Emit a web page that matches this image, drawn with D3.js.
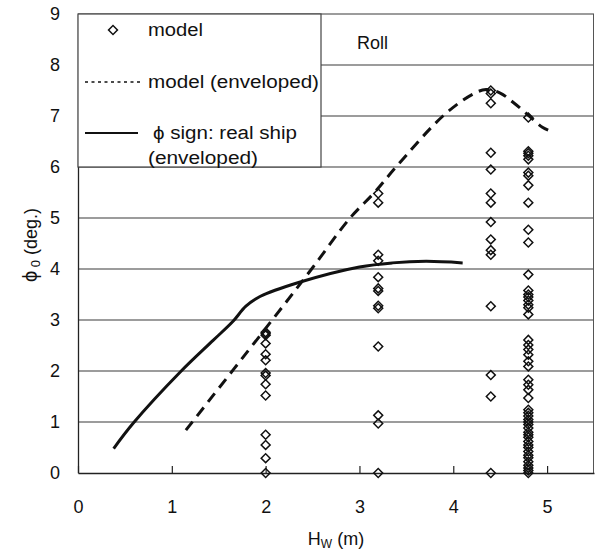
<!DOCTYPE html>
<html>
<head>
<meta charset="utf-8">
<script src="https://cdn.jsdelivr.net/npm/d3@7"></script>
<style>
  html, body { margin: 0; padding: 0; background: #fff; }
  svg { display: block; font-family: "Liberation Sans", Arial, sans-serif; }
</style>
</head>
<body>
<svg id="chart" width="595" height="553"></svg>
<script>
// Wave height columns of the model tests (m)
const hwColumns = [2.0, 3.2, 4.4, 4.8];

// Measured roll amplitude phi0 (deg.) at each wave height
const phiAtHw20 = [2.76, 2.73, 2.70, 2.54, 2.33, 2.21, 1.96, 1.91, 1.74, 1.52, 0.75, 0.55, 0.29, 0.0];
const phiAtHw32 = [5.48, 5.30, 4.28, 4.16, 3.84, 3.62, 3.57, 3.28, 3.23, 2.48, 1.13, 0.97, 0.0];
const phiAtHw44 = [7.50, 7.44, 7.25, 6.28, 5.95, 5.48, 5.30, 4.92, 4.58, 4.37, 4.28, 3.27, 1.92, 1.50, 0.0];
const phiAtHw48 = [6.97, 6.31, 6.27, 6.22, 6.15, 5.89, 5.83, 5.64, 5.30, 4.77, 4.52, 3.89,
                   3.58, 3.50, 3.45, 3.38, 3.30, 3.24, 3.11, 2.61, 2.51, 2.42, 2.32, 2.19, 2.09,
                   1.83, 1.73, 1.63, 1.47, 1.24, 1.18, 1.12, 1.05, 1.00, 0.95, 0.88, 0.80,
                   0.75, 0.70, 0.62, 0.55, 0.50, 0.42, 0.35, 0.30, 0.22, 0.15, 0.10, 0.05, 0.0];

// Envelope of the model results
const envModelHw  = [1.15, 2.07, 2.49, 2.90, 3.16, 3.39, 3.89, 4.20, 4.35, 4.50, 4.65, 4.81, 4.95, 5.07];
const envModelPhi = [0.84, 3.00, 4.00, 5.00, 5.50, 6.00, 7.00, 7.42, 7.52, 7.45, 7.25, 7.00, 6.78, 6.68];

// Envelope of the real ship phi sign
const shipHw  = [0.38, 0.59, 1.09, 1.44, 1.65, 1.79, 1.94, 2.36, 3.00, 3.35, 3.71, 4.10];
const shipPhi = [0.48, 0.98, 1.98, 2.60, 2.97, 3.27, 3.46, 3.74, 4.04, 4.12, 4.15, 4.12];

const xTickValues = [0, 1, 2, 3, 4, 5];
const yTickValues = [0, 1, 2, 3, 4, 5, 6, 7, 8, 9];

const legendLabels = ["model", "model (enveloped)", "\u03d5 sign: real ship", "(enveloped)"];
const panelTitle = "Roll";

// ---- layout ----
const plot = { left: 78, right: 594, top: 14, bottom: 473 };
const svg = d3.select("#chart");

const x = d3.scaleLinear().domain([0, 5.5]).range([plot.left, plot.right]);
const y = d3.scaleLinear().domain([0, 9]).range([plot.bottom, plot.top]);

// horizontal grid lines
svg.append("g")
  .selectAll("line")
  .data(yTickValues.filter(v => v > 0))
  .join("line")
  .attr("x1", plot.left).attr("x2", plot.right)
  .attr("y1", d => y(d)).attr("y2", d => y(d))
  .attr("stroke", "#3a3a3a").attr("stroke-width", 1.1);

// right border
svg.append("line")
  .attr("x1", plot.right - 0.5).attr("x2", plot.right - 0.5)
  .attr("y1", plot.top).attr("y2", plot.bottom)
  .attr("stroke", "#555").attr("stroke-width", 1);

// x axis with inward ticks
const xAxis = d3.axisBottom(x).tickValues(xTickValues).tickFormat(d3.format("d"))
  .tickSizeInner(-7).tickSizeOuter(0).tickPadding(0);
const gx = svg.append("g").attr("transform", `translate(0,${plot.bottom})`).call(xAxis);
gx.select(".domain").attr("stroke", "#222").attr("stroke-width", 1.3);
gx.selectAll(".tick line").attr("stroke", "#222").attr("stroke-width", 1.2);
gx.selectAll(".tick text")
  .attr("y", 34).attr("dy", "0.35em")
  .attr("font-size", 18).attr("fill", "#111")
  .attr("font-family", "'Liberation Sans', Arial, sans-serif");

// y axis
const yAxis = d3.axisLeft(y).tickValues(yTickValues).tickFormat(d3.format("d")).tickSize(0).tickPadding(18);
const gy = svg.append("g").attr("transform", `translate(${plot.left},0)`).call(yAxis);
gy.select(".domain").attr("stroke", "#222").attr("stroke-width", 1.3);
gy.selectAll(".tick text")
  .attr("font-size", 18).attr("fill", "#111")
  .attr("font-family", "'Liberation Sans', Arial, sans-serif");

// model points
const modelPoints = [];
[phiAtHw20, phiAtHw32, phiAtHw44, phiAtHw48].forEach((vals, i) => {
  vals.forEach(v => modelPoints.push({ hw: hwColumns[i], phi: v }));
});
const diamond = d3.symbol().type(d3.symbolSquare).size(40);
svg.append("g")
  .selectAll("path")
  .data(modelPoints)
  .join("path")
  .attr("d", diamond)
  .attr("transform", d => `translate(${x(d.hw)},${y(d.phi)}) rotate(45)`)
  .attr("fill", "none")
  .attr("stroke", "#111")
  .attr("stroke-width", 1.5);

// envelope curves
const line = d3.line().x(d => x(d[0])).y(d => y(d[1])).curve(d3.curveCatmullRom.alpha(0.5));

svg.append("path")
  .datum(envModelHw.map((h, i) => [h, envModelPhi[i]]))
  .attr("d", line)
  .attr("fill", "none")
  .attr("stroke", "#111")
  .attr("stroke-width", 3)
  .attr("stroke-dasharray", "11,7");

svg.append("path")
  .datum(shipHw.map((h, i) => [h, shipPhi[i]]))
  .attr("d", line)
  .attr("fill", "none")
  .attr("stroke", "#111")
  .attr("stroke-width", 3);

// legend box
const lg = svg.append("g");
lg.append("rect")
  .attr("x", plot.left).attr("y", plot.top)
  .attr("width", 321 - plot.left).attr("height", y(6) - plot.top)
  .attr("fill", "#fff").attr("stroke", "#444").attr("stroke-width", 1.2);

lg.append("path")
  .attr("d", diamond)
  .attr("transform", `translate(113,30) rotate(45)`)
  .attr("fill", "none").attr("stroke", "#111").attr("stroke-width", 1.5);
lg.append("line")
  .attr("x1", 85).attr("x2", 140).attr("y1", 82).attr("y2", 82)
  .attr("stroke", "#111").attr("stroke-width", 1.4).attr("stroke-dasharray", "3,3.5");
lg.append("line")
  .attr("x1", 85).attr("x2", 138).attr("y1", 133).attr("y2", 133)
  .attr("stroke", "#111").attr("stroke-width", 2);

const legendText = [
  { t: legendLabels[0], x: 148, y: 30, w: 55 },
  { t: legendLabels[1], x: 148, y: 82, w: 171 },
  { t: legendLabels[2], x: 153, y: 133, w: 144 },
  { t: legendLabels[3], x: 148, y: 158, w: 110 }
];
lg.selectAll("text.leg")
  .data(legendText)
  .join("text")
  .attr("class", "leg")
  .attr("x", d => d.x).attr("y", d => d.y)
  .attr("dy", "0.35em")
  .attr("font-size", 18)
  .attr("fill", "#111")
  .attr("textLength", d => d.w)
  .attr("lengthAdjust", "spacingAndGlyphs")
  .text(d => d.t);

svg.append("text")
  .attr("x", 357).attr("y", 43).attr("dy", "0.35em")
  .attr("font-size", 18).attr("fill", "#111")
  .text(panelTitle);

// axis titles
const xt = svg.append("text")
  .attr("x", (plot.left + plot.right) / 2).attr("y", 539)
  .attr("text-anchor", "middle").attr("dy", "0.35em")
  .attr("font-size", 18).attr("fill", "#111");
xt.append("tspan").text("H");
xt.append("tspan").attr("font-size", 12).attr("dy", "0.2em").text("W");
xt.append("tspan").attr("dy", "-0.15em").text(" (m)");

const yt = svg.append("text")
  .attr("transform", "translate(31,245) rotate(-90)")
  .attr("text-anchor", "middle").attr("dy", "0.35em")
  .attr("font-size", 18).attr("fill", "#111");
yt.append("tspan").attr("font-size", 20).text("\u03d5");
yt.append("tspan").attr("font-size", 13).attr("dy", "0.2em").text(" 0");
yt.append("tspan").attr("dy", "-0.15em").text(" (deg.)");
</script>
</body>
</html>
